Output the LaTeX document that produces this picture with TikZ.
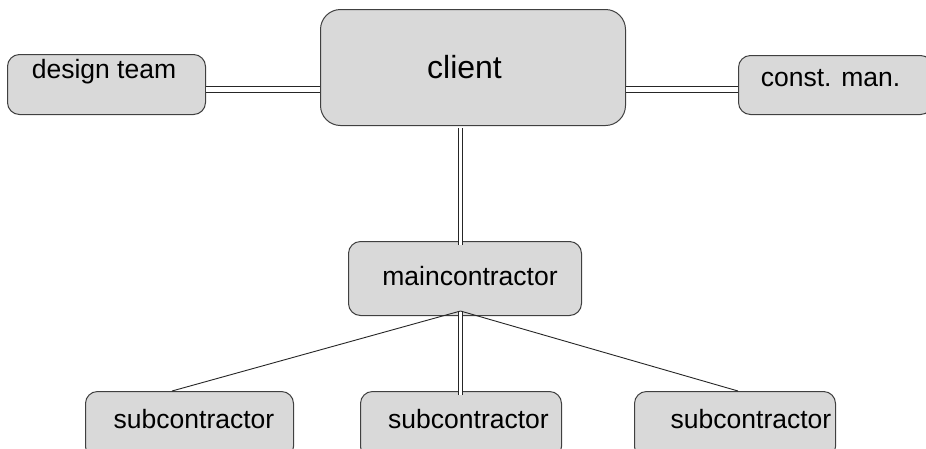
\documentclass[tikz,border=0pt]{standalone}
\usepackage{fontspec}
\setmainfont{Liberation Sans}
\begin{document}
\begin{tikzpicture}[x=1pt, y=-1pt,
  box/.style={draw=black!75, fill=black!15, line width=1pt, rounded corners=12pt,
    anchor=north west, inner xsep=0pt, inner ysep=4pt,
    font=\fontsize{26.5}{30}\selectfont},
  bigbox/.style={box, rounded corners=20pt, font=\fontsize{32}{36}\selectfont},
  bar/.style={draw=black!85, double=white, line width=1pt, double distance=#1},
  bar/.default=5pt,
  link/.style={draw=black!85, line width=0.9pt}]
  \clip (0,0) rectangle (926,448);
  \fill[white] (0,0) rectangle (926,448);

  % organisation boxes
  \node[bigbox, minimum width=305pt, minimum height=116pt, text height=65pt, text depth=43pt]
    (client) at (320,9) {client\hspace*{17pt}};
  \node[box, minimum width=198pt, minimum height=60pt, text height=20pt, text depth=32pt]
    (design) at (7,54) {design team\hspace*{5pt}};
  \node[box, minimum width=194pt, minimum height=59pt, text height=27pt, text depth=24pt]
    (const) at (738,55) {const. man.\hspace*{10pt}};
  \node[box, minimum width=233pt, minimum height=74pt, text height=40pt, text depth=26pt]
    (main) at (348,241) {\hspace*{10pt}maincontractor};
  \node[box, minimum width=208pt, minimum height=67pt, text height=33pt, text depth=26pt]
    (sub1) at (85,391) {\hspace*{9pt}subcontractor};
  \node[box, minimum width=201pt, minimum height=67pt, text height=33pt, text depth=26pt]
    (sub2) at (360,391) {\hspace*{15pt}subcontractor};
  \node[box, minimum width=201pt, minimum height=67pt, text height=33pt, text depth=26pt]
    (sub3) at (634,391) {\hspace*{32pt}subcontractor};

  % attachment points of the connectors
  \coordinate (clientfoot) at (460,128);
  \coordinate (mainhead) at (460,245);
  \coordinate (apex) at (460.5,311);
  \coordinate (sub2head) at (460.5,395);

  % double-line links
  \draw[bar] (design.east |- 0,89.5) -- (client.west |- 0,89.5);
  \draw[bar] (client.east |- 0,89) -- (const.west |- 0,89);
  \draw[bar=3pt] (clientfoot) -- (mainhead);
  \draw[bar=3pt] (apex) -- (sub2head);

  % single-line links
  \draw[link] (apex) -- (sub1.north -| 172,0);
  \draw[link] (apex) -- (sub3.north -| 738,0);
\end{tikzpicture}
\end{document}
